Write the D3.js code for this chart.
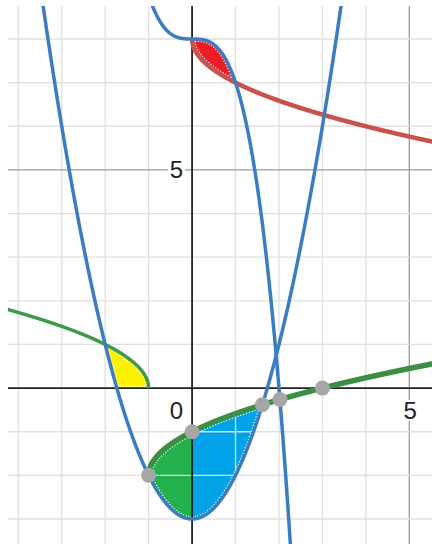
<!DOCTYPE html>
<html>
<head>
<meta charset="utf-8">
<title>Graph</title>
<style>
  html, body { margin: 0; padding: 0; background: #fff; }
  svg { display: block; }
</style>
<script src="https://d3js.org/d3.v7.min.js"></script>
</head>
<body>
<svg id="chart" width="432" height="544"></svg>
<script>
// view window (math units)
var xDomain = [-4, 5];
var yDomain = [-3, 8];
var xGrid = d3.range(-4, 6);      // minor grid lines x
var yGrid = d3.range(-3, 9);      // minor grid lines y
var xMajor = [5];
var yMajor = [5];
var xTickLabels = [{v: 0, t: "0"}, {v: 5, t: "5"}];
var yTickLabels = [{v: 5, t: "5"}];

// the five functions of the graph
var parabola = function (x) { return x * x - 3; };
var cubic = function (x) { return 8 - x * x * x; };
var rootRight = function (x) { return Math.sqrt(x + 1) - 2; };
var rootLeft = function (x) { return Math.sqrt(-1 - x); };
var rootRed = function (x) { return 8 - Math.sqrt(x); };

// curves: function, x interval, colour, width
var curves = [
  {f: rootLeft,  from: -5,  to: -1,  color: "#3f9a4c", w: 3.5},
  {f: rootRight, from: -1,  to: 6,   color: "#3a8f45", w: 5.5},
  {f: rootRed,   from: 0,   to: 6,   color: "#c9524d", w: 4.5},
  {f: parabola,  from: -4,  to: 4,   color: "#3b7dc0", w: 3.5},
  {f: cubic,     from: -1.2, to: 2.5, color: "#3b7dc0", w: 3.5}
];

// shaded regions: lower / upper bound and x interval
var fills = [
  {lo: function (x) { return Math.max(0, parabola(x)); }, hi: rootLeft, from: -2, to: -1, color: "#fff200", loW: 3.5, hiW: 3.5},
  {lo: rootRed, hi: cubic, from: 0, to: 1, color: "#ed1c24", loW: 4.5, hiW: 3.5},
  {lo: parabola, hi: rootRight, from: -1, to: 0, color: "#22b14c", loW: 3.5, hiW: 5.5},
  {lo: parabola, hi: rootRight, from: 0, to: 1.618, color: "#00a2e8", loW: 3.5, hiW: 5.5}
];

// marked intersection points
var pointsX = [-1, 0, 1.618, 2.022, 3];
var pointsY = [-2, -1, -0.382, -0.26, 0];

var svg = d3.select("#chart");
var x = d3.scaleLinear().domain(xDomain).range([18.3, 409.3]);
var y = d3.scaleLinear().domain(yDomain).range([519, 39]);

svg.append("clipPath").attr("id", "plot")
  .append("rect").attr("x", 8).attr("y", 6).attr("width", 424).attr("height", 538);

var g = svg.append("g").attr("clip-path", "url(#plot)");

function samples(a, b) {
  var s = d3.range(a, b, 0.004);
  s.push(b);
  return s;
}

var line = function (f) {
  return d3.line().x(function (d) { return x(d); }).y(function (d) { return y(f(d)); });
};

// fills
fills.forEach(function (r, i) {
  var area = d3.area()
    .x(function (d) { return x(d); })
    .y0(function (d) { return y(r.lo(d)); })
    .y1(function (d) { return y(r.hi(d)); });
  var pts = samples(r.from, r.to);
  svg.append("clipPath").attr("id", "fill" + i)
    .append("path").attr("d", area(pts));
  g.append("path").attr("d", area(pts)).attr("fill", r.color);
  // white dotted rim along the curve sides
  var rim = g.append("g").attr("clip-path", "url(#fill" + i + ")");
  [[r.lo, r.loW], [r.hi, r.hiW]].forEach(function (e) {
    rim.append("path")
      .attr("d", line(e[0])(pts))
      .attr("fill", "none")
      .attr("stroke", "#fff")
      .attr("stroke-width", e[1] + 2.2)
      .attr("stroke-dasharray", "1.2 1.8");
  });
});

// grid
g.selectAll(".gx").data(xGrid).join("line")
  .attr("x1", function (d) { return x(d); }).attr("x2", function (d) { return x(d); })
  .attr("y1", 0).attr("y2", 544)
  .attr("stroke", function (d) { return xMajor.indexOf(d) >= 0 ? "#9a9a9a" : "#e0e0e0"; })
  .attr("stroke-width", 1.3);
g.selectAll(".gy").data(yGrid).join("line")
  .attr("y1", function (d) { return y(d); }).attr("y2", function (d) { return y(d); })
  .attr("x1", 0).attr("x2", 432)
  .attr("stroke", function (d) { return yMajor.indexOf(d) >= 0 ? "#9a9a9a" : "#e0e0e0"; })
  .attr("stroke-width", 1.3);

// axes
g.append("line").attr("x1", 0).attr("x2", 432).attr("y1", y(0)).attr("y2", y(0))
  .attr("stroke", "#222").attr("stroke-width", 1.8);
g.append("line").attr("x1", x(0)).attr("x2", x(0)).attr("y1", 0).attr("y2", 544)
  .attr("stroke", "#222").attr("stroke-width", 1.8);

// curves
curves.forEach(function (c) {
  g.append("path")
    .attr("d", line(c.f)(samples(c.from, c.to)))
    .attr("fill", "none")
    .attr("stroke", c.color)
    .attr("stroke-width", c.w)
    .attr("stroke-linejoin", "round");
});

// points
g.selectAll(".pt").data(pointsX).join("circle")
  .attr("cx", function (d) { return x(d); })
  .attr("cy", function (d, i) { return y(pointsY[i]); })
  .attr("r", 7.5)
  .attr("fill", "#a6a6a6");

// tick labels with white backing
function label(t, px, py, anchor) {
  var txt = g.append("text").text(t)
    .attr("x", px).attr("y", py)
    .attr("text-anchor", anchor)
    .attr("font-family", "'Liberation Sans', Arial, sans-serif")
    .attr("font-size", 24)
    .attr("fill", "#222");
  var b = txt.node().getBBox();
  g.insert("rect", "text").attr("x", b.x - 2).attr("y", b.y + 3)
    .attr("width", b.width + 4).attr("height", b.height - 6)
    .attr("fill", "#fff");
}
xTickLabels.forEach(function (d) {
  if (d.v === 0) label(d.t, x(0) - 9, 419, "end");
  else label(d.t, x(d.v) + 1, 419, "middle");
});
yTickLabels.forEach(function (d) {
  label(d.t, x(0) - 9, y(d.v) + 8.5, "end");
});
</script>
</body>
</html>
